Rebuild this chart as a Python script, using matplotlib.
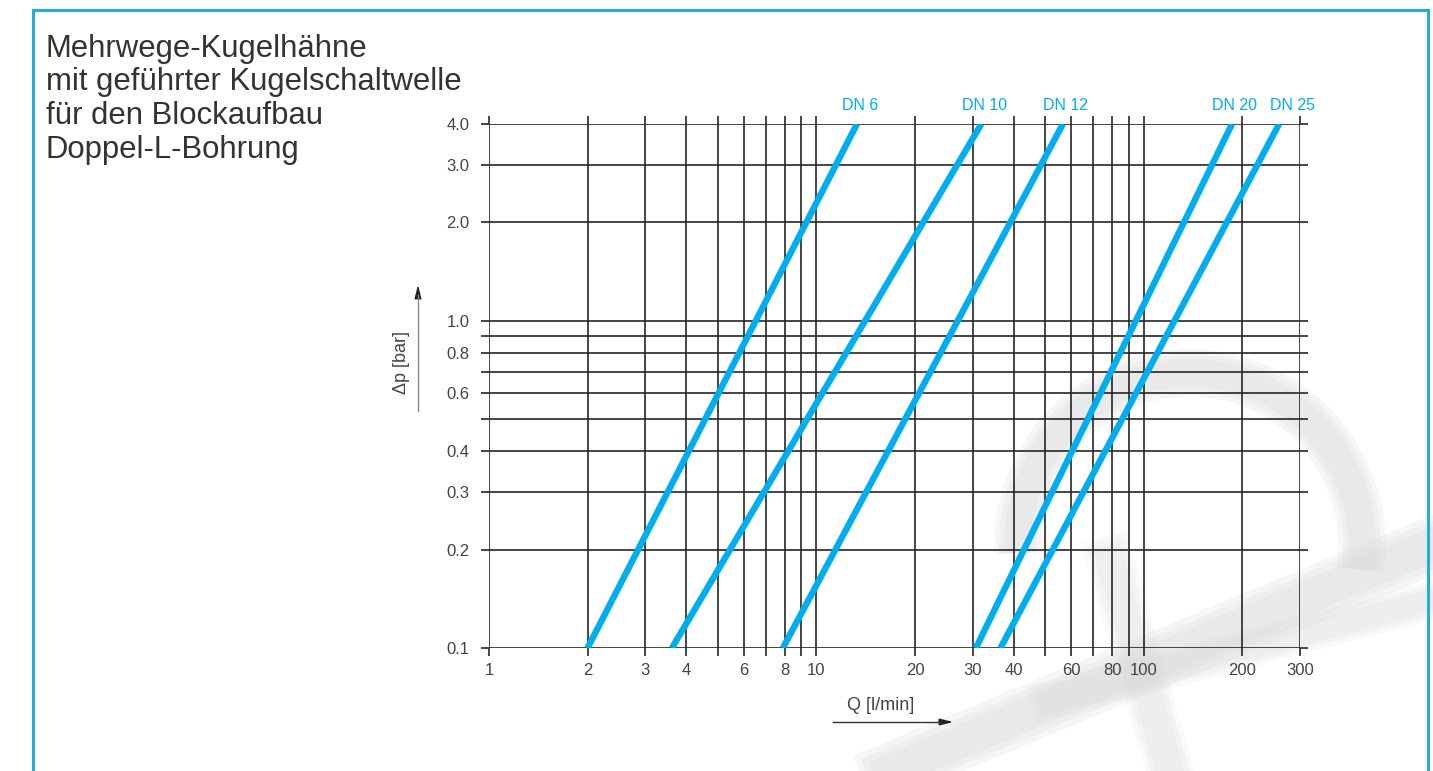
import matplotlib.pyplot as plt
from matplotlib.patches import Rectangle, Arc

plt.rcParams["font.family"] = ["Liberation Sans", "DejaVu Sans"]

# Durchfluss bei dp = 0.1 bar und dp = 4.0 bar
series = ["DN 6", "DN 10", "DN 12", "DN 20", "DN 25"]
q_low = [2.0, 3.62, 7.9, 30.7, 36.5]
q_high = [13.3, 31.9, 56.6, 186, 259]
dp_range = [0.1, 4.0]

x_grid = [1, 2, 3, 4, 5, 6, 7, 8, 9, 10, 20, 30, 40, 50, 60, 70, 80, 90, 100, 200, 300]
x_labels = ["1", "2", "3", "4", "", "6", "", "8", "", "10", "20", "30", "40", "",
            "60", "", "80", "", "100", "200", "300"]
y_grid = [0.1, 0.2, 0.3, 0.4, 0.5, 0.6, 0.7, 0.8, 0.9, 1.0, 2.0, 3.0, 4.0]
y_labels = ["0.1", "0.2", "0.3", "0.4", "", "0.6", "", "0.8", "", "1.0", "2.0", "3.0", "4.0"]

title_lines = ["Mehrwege-Kugelhähne", "mit geführter Kugelschaltwelle",
               "für den Blockaufbau", "Doppel-L-Bohrung"]

blue = "#00aeef"
grid_col = "#262626"
text_col = "#444444"
W, H = 1433, 771


def fx(px):
    return px / W


def fy(py):
    return 1 - py / H


fig = plt.figure(figsize=(14.33, 7.71), dpi=100)
fig.patches.append(Rectangle((fx(33), -0.05), fx(1428 - 33), 1.05 - 10 / H,
                             transform=fig.transFigure, fill=False,
                             edgecolor="#29abe2", linewidth=2.2, zorder=5))

# blasses, unscharfes Logo im Hintergrund (grob angedeutet)
for k in (1.0, 1.35, 1.7):
    a = 0.22
    fig.patches.append(Arc((fx(1190), fy(545)), fx(2 * 172), 2 * 172 / H, theta1=-15, theta2=185,
                           transform=fig.transFigure, color="#d8d8d8", alpha=a,
                           linewidth=20 * k, zorder=-2))
    fig.add_artist(plt.Line2D([fx(890), fx(1433)], [fy(771), fy(545)], color="#d8d8d8",
                              alpha=a, linewidth=24 * k, zorder=-2))
    fig.add_artist(plt.Line2D([fx(1050), fx(1433)], [fy(700), fy(600)], color="#d8d8d8",
                              alpha=a * 0.7, linewidth=16 * k, zorder=-2))
    fig.add_artist(plt.Line2D([fx(1110), fx(1170)], [fy(560), fy(771)], color="#d8d8d8",
                              alpha=a * 0.7, linewidth=20 * k, zorder=-2))

ax = fig.add_axes([fx(489), fy(648), fx(1300 - 489), (648 - 124) / H])
ax.patch.set_alpha(0)
ax.set_xscale("log")
ax.set_yscale("log")
ax.set_xlim(1, 300)
ax.set_ylim(0.1, 4.0)

for v in x_grid:
    ax.axvline(v, color=grid_col, linewidth=1.2, zorder=1)
for v in y_grid:
    ax.axhline(v, color=grid_col, linewidth=1.2, zorder=1)

for name, a, b in zip(series, q_low, q_high):
    ax.plot([a, b], dp_range, color=blue, linewidth=4.6, solid_capstyle="butt", zorder=3)
    dx = 10 if name == "DN 25" else 2
    ax.annotate(name, (b, dp_range[1]), xytext=(dx, 8), textcoords="offset points",
                ha="center", va="bottom", color=blue, fontsize=11.5)

ax.set_xticks(x_grid, labels=x_labels)
ax.set_yticks(y_grid, labels=y_labels)
ax.minorticks_off()
ax.tick_params(which="both", direction="out", length=6, width=1.2, color=grid_col,
               labelcolor=text_col, labelsize=12, top=True, right=True,
               labeltop=False, labelright=False)
ax.tick_params(axis="x", pad=5)
ax.tick_params(axis="y", pad=8)
for s in ax.spines.values():
    s.set_visible(False)

# Achsenbeschriftungen mit Pfeilen
fig.text(fx(401), fy(363), "\u0394p [bar]", rotation=90, ha="center", va="center",
         color=text_col, fontsize=13)
fig.add_artist(plt.Line2D([fx(418), fx(418)], [fy(411), fy(295)],
                          color="#888888", linewidth=1.0))
ax.annotate("", xy=(fx(418), fy(282)), xytext=(fx(418), fy(300)),
            xycoords="figure fraction",
            arrowprops=dict(arrowstyle="-|>,head_length=0.8,head_width=0.2", color="#222222", lw=1))

fig.text(fx(881), fy(706), "Q [l/min]", ha="center", va="center",
         color=text_col, fontsize=13)
fig.add_artist(plt.Line2D([fx(833), fx(940)], [fy(722), fy(722)],
                          color="#333333", linewidth=1.0))
ax.annotate("", xy=(fx(956), fy(722)), xytext=(fx(936), fy(722)),
            xycoords="figure fraction",
            arrowprops=dict(arrowstyle="-|>,head_length=0.8,head_width=0.2", color="#222222", lw=1))

for i, line in enumerate(title_lines):
    fig.text(fx(46), fy(45 + 33.8 * i), line, ha="left", va="center_baseline",
             color="#333333", fontsize=22.4)

fig.savefig("out.png", dpi=100)
